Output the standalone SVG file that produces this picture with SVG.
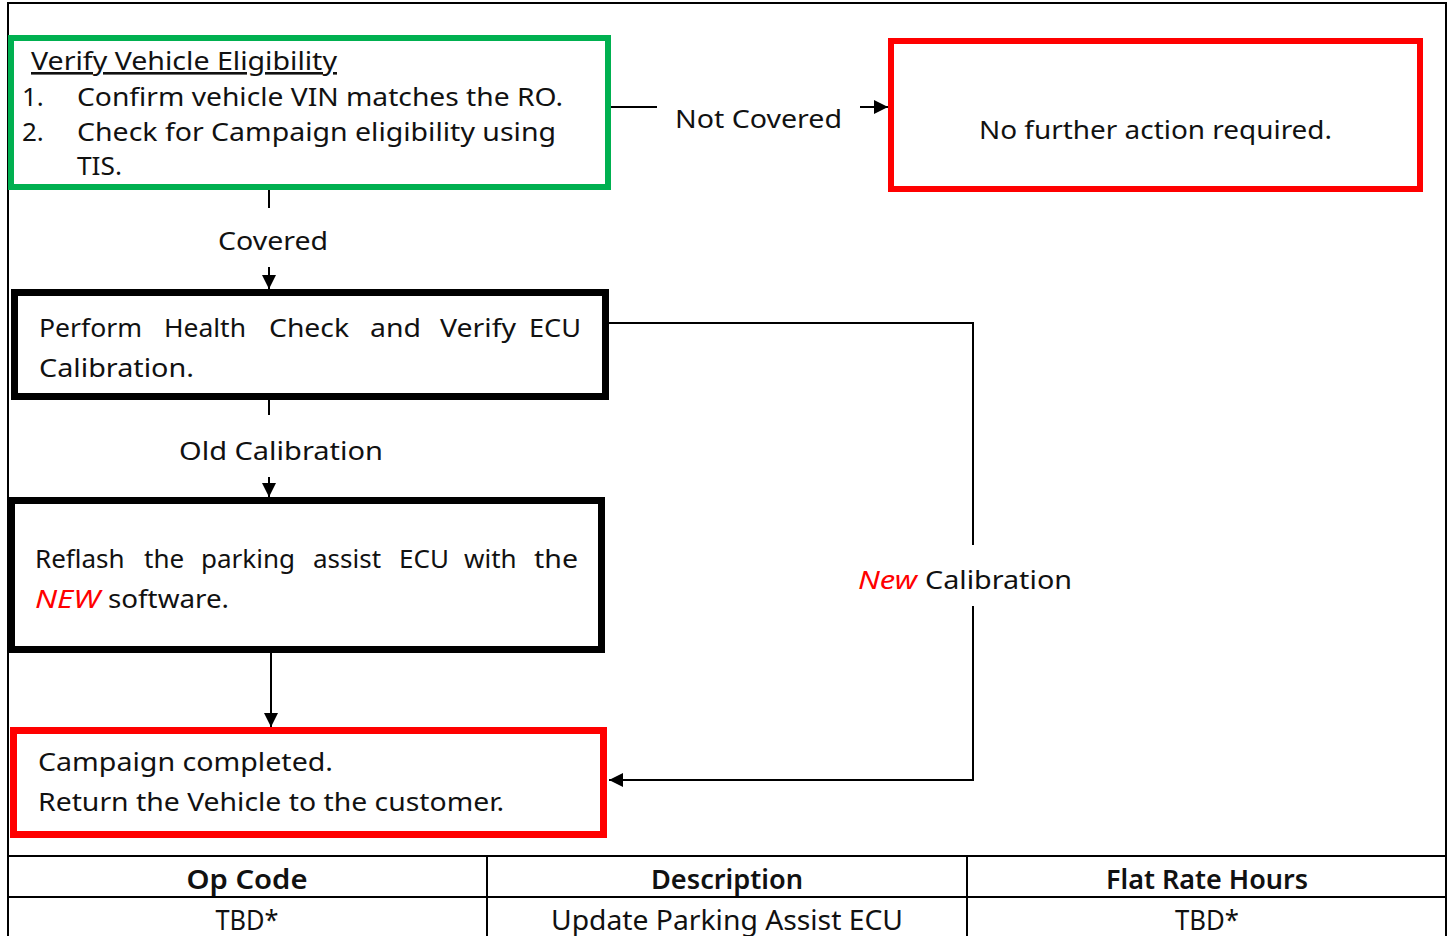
<svg xmlns="http://www.w3.org/2000/svg" width="1450" height="936" viewBox="0 0 1450 936">
<style>
text{font-family:"Noto Sans","DejaVu Sans",sans-serif;font-size:26px;fill:#111}
.c{text-anchor:middle}
.red{fill:#ff0000;font-style:italic}
.tb{font-size:27px}
.th{font-weight:600}
.conn{fill:none;stroke:#000;stroke-width:2}
.frame{fill:none;stroke:#000;stroke-width:2}
</style>
<defs>
<marker id="ah" viewBox="0 0 10 10" refX="10" refY="5" markerWidth="14" markerHeight="14" markerUnits="userSpaceOnUse" orient="auto">
<path d="M0,0 L10,5 L0,10 Z" fill="#000"/>
</marker>
</defs>
<rect width="1450" height="936" fill="#fff"/>
<g id="frame">
<path class="frame" d="M8,936 V3 H1446 V936"/>
<path class="frame" d="M8,856 H1446 M8,897 H1446 M487,856 V936 M967,856 V936"/>
</g>
<g id="connectors">
<path class="conn" d="M611,107 H657"/>
<path class="conn" d="M860,107 H888" marker-end="url(#ah)"/>
<path class="conn" d="M269,190 V208"/>
<path class="conn" d="M269,267 V289" marker-end="url(#ah)"/>
<path class="conn" d="M269,400 V415"/>
<path class="conn" d="M269,477 V497" marker-end="url(#ah)"/>
<path class="conn" d="M271,653 V727" marker-end="url(#ah)"/>
<path class="conn" d="M609,323 H973 V545"/>
<path class="conn" d="M973,606 V780 H609" marker-end="url(#ah)"/>
<text x="675" y="128" textLength="167" lengthAdjust="spacingAndGlyphs">Not Covered</text>
<text x="218" y="250" textLength="110" lengthAdjust="spacingAndGlyphs">Covered</text>
<text x="179" y="460" textLength="204" lengthAdjust="spacingAndGlyphs">Old Calibration</text>
<text x="858" y="589" class="red" textLength="59" lengthAdjust="spacingAndGlyphs">New</text>
<text x="925" y="589" textLength="147" lengthAdjust="spacingAndGlyphs">Calibration</text>
</g>
<g id="verify">
<rect x="11" y="38" width="597" height="149" fill="#fff" stroke="#00b050" stroke-width="6"/>
<text x="31" y="70" textLength="306" lengthAdjust="spacingAndGlyphs" text-decoration="underline">Verify Vehicle Eligibility</text>
<text x="22" y="106">1.</text>
<text x="77" y="106" textLength="486" lengthAdjust="spacingAndGlyphs">Confirm vehicle VIN matches the RO.</text>
<text x="22" y="141">2.</text>
<text x="77" y="141" textLength="479" lengthAdjust="spacingAndGlyphs">Check for Campaign eligibility using</text>
<text x="77" y="175" textLength="45" lengthAdjust="spacingAndGlyphs">TIS.</text>
</g>
<g id="no-action">
<rect x="891" y="41" width="529" height="148" fill="#fff" stroke="#ff0000" stroke-width="6"/>
<text x="979" y="139" textLength="353" lengthAdjust="spacingAndGlyphs">No further action required.</text>
</g>
<g id="health-check">
<rect x="14.5" y="292.5" width="591" height="104" fill="#fff" stroke="#000" stroke-width="7"/>
<text x="39" y="337" textLength="103" lengthAdjust="spacingAndGlyphs">Perform</text>
<text x="164" y="337" textLength="82" lengthAdjust="spacingAndGlyphs">Health</text>
<text x="269" y="337" textLength="80" lengthAdjust="spacingAndGlyphs">Check</text>
<text x="370" y="337" textLength="51" lengthAdjust="spacingAndGlyphs">and</text>
<text x="440" y="337" textLength="76" lengthAdjust="spacingAndGlyphs">Verify</text>
<text x="529" y="337" textLength="52" lengthAdjust="spacingAndGlyphs">ECU</text>
<text x="39" y="377" textLength="155" lengthAdjust="spacingAndGlyphs">Calibration.</text>
</g>
<g id="reflash">
<rect x="11.5" y="500.5" width="590" height="149" fill="#fff" stroke="#000" stroke-width="7"/>
<text x="35" y="568">Reflash</text>
<text x="144" y="568">the</text>
<text x="201" y="568">parking</text>
<text x="313" y="568">assist</text>
<text x="399" y="568">ECU</text>
<text x="464" y="568">with</text>
<text x="534" y="568" textLength="44" lengthAdjust="spacingAndGlyphs">the</text>
<text x="35" y="608" class="red" textLength="65" lengthAdjust="spacingAndGlyphs">NEW</text>
<text x="108" y="608" textLength="121" lengthAdjust="spacingAndGlyphs">software.</text>
</g>
<g id="completed">
<rect x="13.5" y="730.5" width="590" height="104" fill="#fff" stroke="#ff0000" stroke-width="7"/>
<text x="38" y="771" textLength="295" lengthAdjust="spacingAndGlyphs">Campaign completed.</text>
<text x="38" y="811" textLength="466" lengthAdjust="spacingAndGlyphs">Return the Vehicle to the customer.</text>
</g>
<g id="table">
<text x="247" y="889" class="c tb th" textLength="121" lengthAdjust="spacingAndGlyphs">Op Code</text>
<text x="727" y="889" class="c tb th" textLength="152" lengthAdjust="spacingAndGlyphs">Description</text>
<text x="1207" y="889" class="c tb th" textLength="202" lengthAdjust="spacingAndGlyphs">Flat Rate Hours</text>
<text x="247" y="930" class="c tb" textLength="63" lengthAdjust="spacingAndGlyphs">TBD*</text>
<text x="727" y="930" class="c tb" textLength="352" lengthAdjust="spacingAndGlyphs">Update Parking Assist ECU</text>
<text x="1207" y="930" class="c tb" textLength="64" lengthAdjust="spacingAndGlyphs">TBD*</text>
</g>
</svg>
